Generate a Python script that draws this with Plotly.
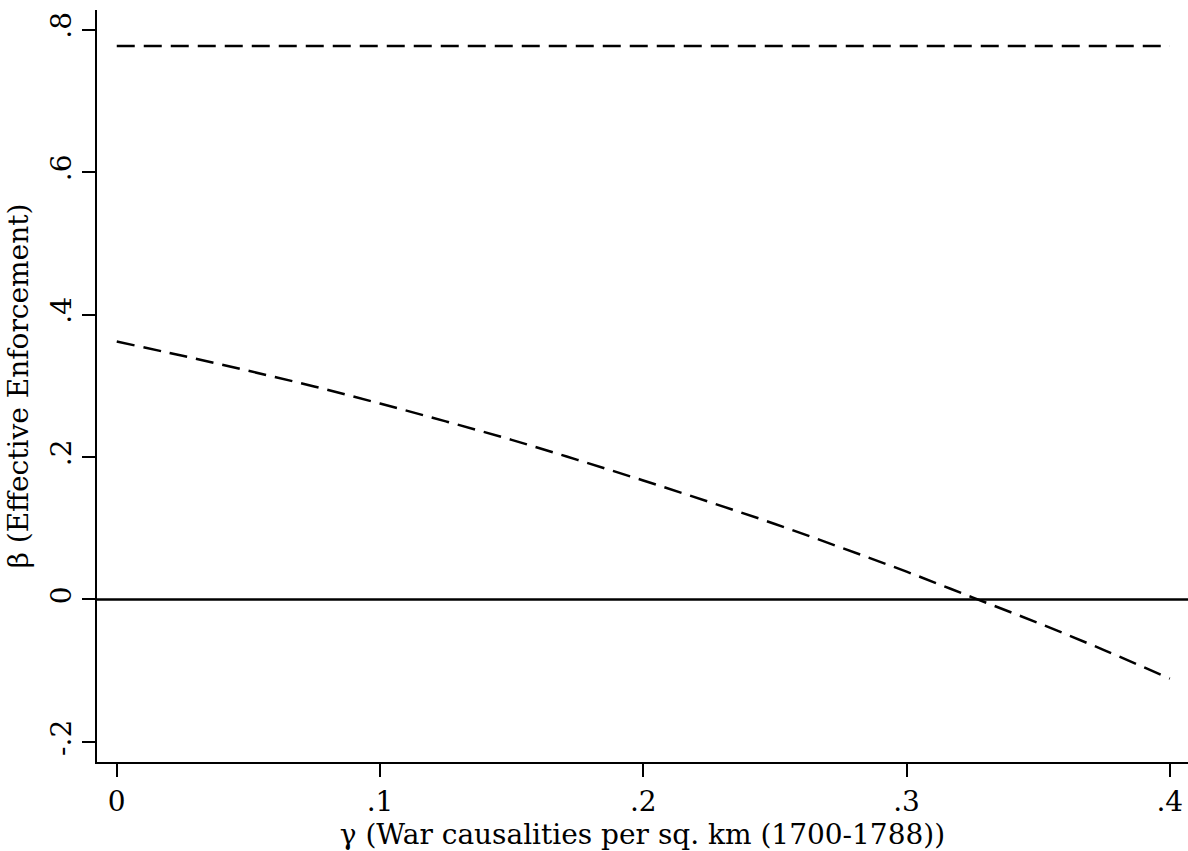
import plotly.graph_objects as go

# Data
gamma = [0.0, 0.025, 0.05, 0.075, 0.1, 0.125, 0.15, 0.175, 0.2, 0.225,
         0.25, 0.275, 0.3, 0.325, 0.35, 0.375, 0.4]
beta_lower = [0.362, 0.342, 0.321, 0.299, 0.275, 0.250, 0.224, 0.196, 0.167,
              0.137, 0.106, 0.073, 0.039, 0.003, -0.033, -0.071, -0.111]
upper_x = [0.0, 0.4]
upper_y = [0.777, 0.777]

x_ticks = [0, 0.1, 0.2, 0.3, 0.4]
x_tick_labels = ["0", ".1", ".2", ".3", ".4"]
y_ticks = [-0.2, 0, 0.2, 0.4, 0.6, 0.8]
y_tick_labels = ["-.2", "0", ".2", ".4", ".6", ".8"]

FONT = "DejaVu Serif"
FS = 28
DASH = "18px,9px"

fig = go.Figure()
fig.add_trace(go.Scatter(x=upper_x, y=upper_y, mode="lines",
                         line=dict(color="black", width=2.5, dash=DASH),
                         showlegend=False, hoverinfo="skip"))
fig.add_trace(go.Scatter(x=gamma, y=beta_lower, mode="lines",
                         line=dict(color="black", width=2.5, dash=DASH, shape="spline"),
                         showlegend=False, hoverinfo="skip"))

fig.add_shape(type="line", xref="paper", yref="y", x0=0, x1=1, y0=0, y1=0,
              line=dict(color="black", width=2.5), layer="below")

fig.update_layout(
    width=1188, height=851,
    margin=dict(l=97, r=0, t=10, b=89),
    plot_bgcolor="white", paper_bgcolor="white",
    font=dict(family=FONT, color="black", size=FS),
    xaxis=dict(
        range=[-0.0075, 0.4069],
        tickmode="array", tickvals=x_ticks, ticktext=x_tick_labels,
        ticks="outside", ticklen=13, tickwidth=2, tickcolor="black",
        showline=True, linewidth=2, linecolor="black",
        showgrid=False, zeroline=False,
        tickfont=dict(family=FONT, size=FS),
        title=dict(text="γ (War causalities per sq. km (1700-1788))",
                   font=dict(family=FONT, size=FS), standoff=2),
    ),
    yaxis=dict(
        range=[-0.2281, 0.8274],
        tickmode="array", tickvals=y_ticks, ticktext=y_tick_labels,
        ticks="outside", ticklen=13, tickwidth=2, tickcolor="black",
        tickangle=-90,
        showline=True, linewidth=2, linecolor="black",
        showgrid=False, zeroline=False,
        tickfont=dict(family=FONT, size=FS),
        title=dict(text="β (Effective Enforcement)",
                   font=dict(family=FONT, size=FS), standoff=8),
    ),
)

fig.write_html("out.html",
               config={"displayModeBar": False},
               post_script="document.body.style.margin='0';document.body.style.padding='0';")
